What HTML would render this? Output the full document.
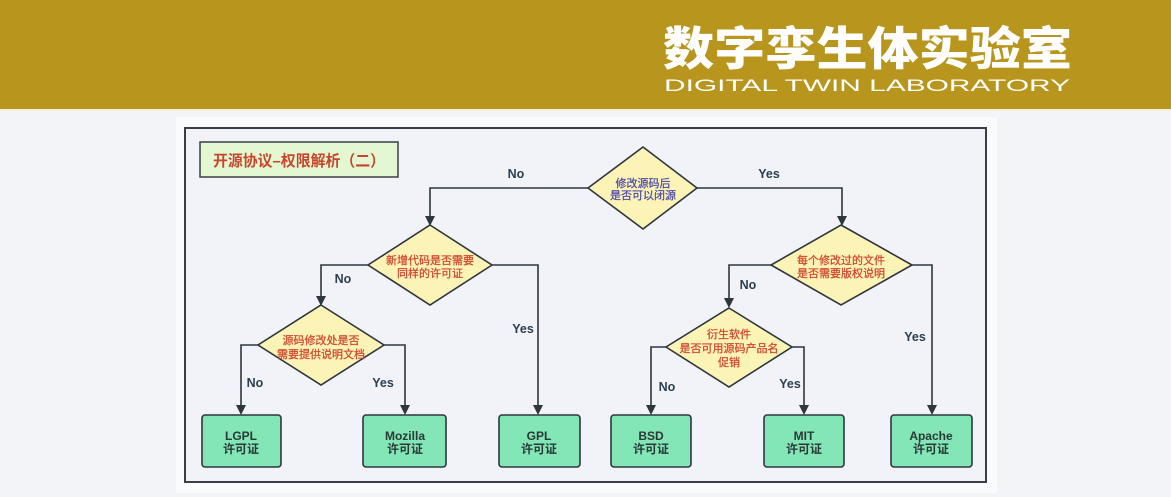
<!DOCTYPE html>
<html><head><meta charset="utf-8"><style>
html,body{margin:0;padding:0;width:1171px;height:497px;overflow:hidden;background:#f3f4f8;}
svg{display:block;}
</style></head><body>
<svg width="1171" height="497" viewBox="0 0 1171 497" xmlns="http://www.w3.org/2000/svg">
<rect x="0" y="0" width="1171" height="109" fill="#b8961e"/>
<rect x="0" y="109" width="1171" height="2" fill="#f5efd8"/>
<text x="663" y="65" font-family="'Noto Sans CJK SC','WenQuanYi Zen Hei',sans-serif" font-weight="900" font-size="46" fill="#ffffff" textLength="409" lengthAdjust="spacingAndGlyphs">数字孪生体实验室</text>
<text x="664" y="91" font-family="'Liberation Sans',sans-serif" font-size="17" fill="#ffffff" textLength="406" lengthAdjust="spacingAndGlyphs">DIGITAL TWIN LABORATORY</text>

<rect x="176" y="117" width="821" height="376" fill="#fafbfd"/>
<rect x="185" y="128" width="801" height="354" fill="#f1f3f8" stroke="#3a3f45" stroke-width="2"/>

<rect x="200" y="142" width="198" height="35" fill="#e2f7d2" stroke="#3a3f45" stroke-width="1.5"/>
<text x="299" y="166" text-anchor="middle" font-family="'Liberation Sans','Noto Sans CJK SC',sans-serif" font-weight="bold" font-size="15.5" fill="#c9462c" textLength="172" lengthAdjust="spacingAndGlyphs">开源协议–权限解析（二）</text>

<g fill="none" stroke="#2e363e" stroke-width="1.6">
<polyline points="588,188 430,188 430,219"/>
<polyline points="697,188 842,188 842,219"/>
<polyline points="368,265 321,265 321,299"/>
<polyline points="492,265 538,265 538,409"/>
<polyline points="771,265 729,265 729,301"/>
<polyline points="912,265 932,265 932,409"/>
<polyline points="258,345 241,345 241,409"/>
<polyline points="384,345 405,345 405,409"/>
<polyline points="666,347 651,347 651,409"/>
<polyline points="792,347 804,347 804,409"/>
</g>
<g fill="#2e363e">
<polygon points="425,216 435,216 430,226"/>
<polygon points="837,216 847,216 842,226"/>
<polygon points="316,296 326,296 321,306"/>
<polygon points="533,405 543,405 538,415"/>
<polygon points="724,298 734,298 729,308"/>
<polygon points="927,405 937,405 932,415"/>
<polygon points="236,405 246,405 241,415"/>
<polygon points="400,405 410,405 405,415"/>
<polygon points="646,405 656,405 651,415"/>
<polygon points="799,405 809,405 804,415"/>
</g>

<g fill="#fcf4b6" stroke="#2e363e" stroke-width="1.6">
<polygon points="643,147 697,188 643,229 588,188"/>
<polygon points="430,225 492,265 430,305 368,265"/>
<polygon points="841,225 912,265 841,305 771,265"/>
<polygon points="321,305 384,345 321,385 258,345"/>
<polygon points="729,308 792,347 729,387 666,347"/>
</g>

<g font-family="'Liberation Sans','Noto Sans CJK SC',sans-serif" font-size="11" text-anchor="middle" stroke-width="0.25">
<text x="643" y="187" fill="#4c4aa8" stroke="#4c4aa8">修改源码后</text>
<text x="643" y="199" fill="#4c4aa8" stroke="#4c4aa8">是否可以闭源</text>
<g fill="#d0452e" stroke="#d0452e">
<text x="430" y="264">新增代码是否需要</text>
<text x="430" y="277">同样的许可证</text>
<text x="841" y="264">每个修改过的文件</text>
<text x="841" y="277">是否需要版权说明</text>
<text x="321" y="344">源码修改处是否</text>
<text x="321" y="358">需要提供说明文档</text>
<text x="729" y="338">衍生软件</text>
<text x="729" y="352">是否可用源码产品名</text>
<text x="729" y="366">促销</text>
</g>
</g>

<g font-family="'Liberation Sans',sans-serif" font-size="12.5" font-weight="bold" fill="#2f3e4e" text-anchor="middle">
<text x="516" y="178">No</text>
<text x="769" y="178">Yes</text>
<text x="343" y="283">No</text>
<text x="748" y="289">No</text>
<text x="523" y="333">Yes</text>
<text x="915" y="341">Yes</text>
<text x="255" y="387">No</text>
<text x="383" y="387">Yes</text>
<text x="667" y="391">No</text>
<text x="790" y="388">Yes</text>
</g>

<g fill="#82e6b6" stroke="#2e363e" stroke-width="1.6">
<rect x="202" y="415" width="79" height="52" rx="3"/>
<rect x="363" y="415" width="83" height="52" rx="3"/>
<rect x="499" y="415" width="81" height="52" rx="3"/>
<rect x="611" y="415" width="80" height="52" rx="3"/>
<rect x="764" y="415" width="80" height="52" rx="3"/>
<rect x="891" y="415" width="81" height="52" rx="3"/>
</g>
<g font-family="'Liberation Sans','Noto Sans CJK SC',sans-serif" font-size="12" font-weight="bold" fill="#2a3838" text-anchor="middle">
<text x="241" y="440">LGPL</text><text x="241" y="453">许可证</text>
<text x="405" y="440">Mozilla</text><text x="405" y="453">许可证</text>
<text x="539" y="440">GPL</text><text x="539" y="453">许可证</text>
<text x="651" y="440">BSD</text><text x="651" y="453">许可证</text>
<text x="804" y="440">MIT</text><text x="804" y="453">许可证</text>
<text x="931" y="440">Apache</text><text x="931" y="453">许可证</text>
</g>
</svg>
</body></html>
